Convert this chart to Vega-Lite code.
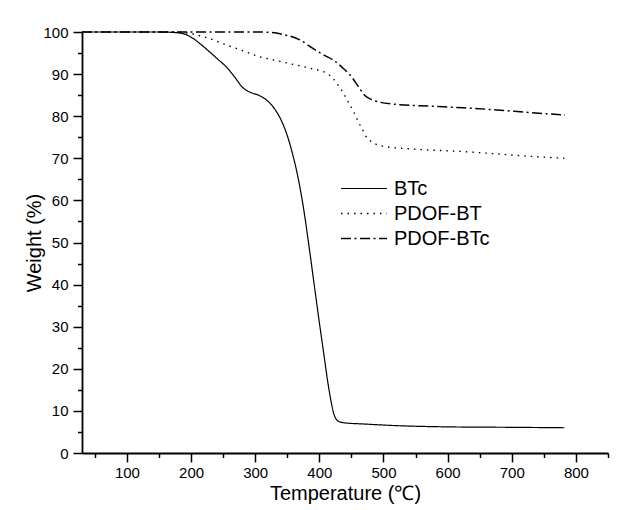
{
  "$schema": "https://vega.github.io/schema/vega-lite/v6.json",
  "autosize": "none",
  "padding": {"left": 82, "top": 32, "right": 10, "bottom": 57},
  "width": 526,
  "height": 421,
  "background": "white",
  "config": {
    "font": "Liberation Sans",
    "view": {"stroke": null}
  },
  "data": {
    "values": [
      {"series": "BTc", "t": 30, "w": 100},
      {"series": "BTc", "t": 150, "w": 100},
      {"series": "BTc", "t": 172, "w": 99.9},
      {"series": "BTc", "t": 190, "w": 99.5},
      {"series": "BTc", "t": 202, "w": 98.6},
      {"series": "BTc", "t": 215, "w": 97.1},
      {"series": "BTc", "t": 229.5, "w": 95.2},
      {"series": "BTc", "t": 242, "w": 93.5},
      {"series": "BTc", "t": 255, "w": 91.7},
      {"series": "BTc", "t": 268, "w": 89.3},
      {"series": "BTc", "t": 280, "w": 86.9},
      {"series": "BTc", "t": 292, "w": 85.7},
      {"series": "BTc", "t": 305, "w": 85.0},
      {"series": "BTc", "t": 318, "w": 83.8},
      {"series": "BTc", "t": 330, "w": 81.8},
      {"series": "BTc", "t": 341, "w": 78.9},
      {"series": "BTc", "t": 350, "w": 75.4},
      {"series": "BTc", "t": 359, "w": 70.6},
      {"series": "BTc", "t": 368, "w": 64.5},
      {"series": "BTc", "t": 376, "w": 57.5},
      {"series": "BTc", "t": 384, "w": 49},
      {"series": "BTc", "t": 392, "w": 40},
      {"series": "BTc", "t": 400, "w": 31},
      {"series": "BTc", "t": 407, "w": 23.5},
      {"series": "BTc", "t": 413, "w": 17},
      {"series": "BTc", "t": 418, "w": 12.5},
      {"series": "BTc", "t": 422, "w": 9.6},
      {"series": "BTc", "t": 426, "w": 8.1},
      {"series": "BTc", "t": 432, "w": 7.4},
      {"series": "BTc", "t": 440, "w": 7.15},
      {"series": "BTc", "t": 468, "w": 6.9},
      {"series": "BTc", "t": 520, "w": 6.5},
      {"series": "BTc", "t": 604, "w": 6.2},
      {"series": "BTc", "t": 700, "w": 6.1},
      {"series": "BTc", "t": 782, "w": 6.0},

      {"series": "PDOF-BT", "t": 30, "w": 100},
      {"series": "PDOF-BT", "t": 170, "w": 100},
      {"series": "PDOF-BT", "t": 188, "w": 99.9},
      {"series": "PDOF-BT", "t": 200, "w": 99.6},
      {"series": "PDOF-BT", "t": 219, "w": 98.9},
      {"series": "PDOF-BT", "t": 255.6, "w": 96.9},
      {"series": "PDOF-BT", "t": 281.5, "w": 95.5},
      {"series": "PDOF-BT", "t": 307.5, "w": 94.1},
      {"series": "PDOF-BT", "t": 333.5, "w": 93.2},
      {"series": "PDOF-BT", "t": 359.5, "w": 92.3},
      {"series": "PDOF-BT", "t": 385.5, "w": 91.4},
      {"series": "PDOF-BT", "t": 411.5, "w": 90.2},
      {"series": "PDOF-BT", "t": 421.8, "w": 88.9},
      {"series": "PDOF-BT", "t": 430, "w": 87.2},
      {"series": "PDOF-BT", "t": 437, "w": 85.6},
      {"series": "PDOF-BT", "t": 445, "w": 83.4},
      {"series": "PDOF-BT", "t": 453, "w": 81.2},
      {"series": "PDOF-BT", "t": 457, "w": 79.9},
      {"series": "PDOF-BT", "t": 462, "w": 78.3},
      {"series": "PDOF-BT", "t": 467, "w": 76.9},
      {"series": "PDOF-BT", "t": 471, "w": 75.6},
      {"series": "PDOF-BT", "t": 479, "w": 74.2},
      {"series": "PDOF-BT", "t": 489, "w": 73.3},
      {"series": "PDOF-BT", "t": 502, "w": 72.8},
      {"series": "PDOF-BT", "t": 546, "w": 72.2},
      {"series": "PDOF-BT", "t": 624, "w": 71.6},
      {"series": "PDOF-BT", "t": 726, "w": 70.5},
      {"series": "PDOF-BT", "t": 782, "w": 70.0},

      {"series": "PDOF-BTc", "t": 30, "w": 100},
      {"series": "PDOF-BTc", "t": 300, "w": 100},
      {"series": "PDOF-BTc", "t": 323, "w": 99.9},
      {"series": "PDOF-BTc", "t": 344, "w": 99.4},
      {"series": "PDOF-BTc", "t": 370, "w": 98.1},
      {"series": "PDOF-BTc", "t": 390, "w": 96.1},
      {"series": "PDOF-BTc", "t": 405, "w": 94.7},
      {"series": "PDOF-BTc", "t": 422, "w": 93.3},
      {"series": "PDOF-BTc", "t": 437, "w": 91.4},
      {"series": "PDOF-BTc", "t": 450, "w": 89.4},
      {"series": "PDOF-BTc", "t": 461, "w": 87},
      {"series": "PDOF-BTc", "t": 471, "w": 84.9},
      {"series": "PDOF-BTc", "t": 484, "w": 83.8},
      {"series": "PDOF-BTc", "t": 495, "w": 83.3},
      {"series": "PDOF-BTc", "t": 521, "w": 82.8},
      {"series": "PDOF-BTc", "t": 572, "w": 82.4},
      {"series": "PDOF-BTc", "t": 624, "w": 82.0},
      {"series": "PDOF-BTc", "t": 676, "w": 81.5},
      {"series": "PDOF-BTc", "t": 726, "w": 80.9},
      {"series": "PDOF-BTc", "t": 783, "w": 80.3}
    ]
  },
  "mark": {"type": "line", "interpolate": "monotone", "color": "black"},
  "encoding": {
    "x": {
      "field": "t",
      "type": "quantitative",
      "scale": {"domain": [30, 850], "nice": false, "zero": false},
      "axis": {
        "title": "Temperature (℃)",
        "titleFontSize": 20,
        "titleFontWeight": "normal",
        "titleColor": "black",
        "titlePadding": 3,
        "values": [50, 100, 150, 200, 250, 300, 350, 400, 450, 500, 550, 600, 650, 700, 750, 800, 850],
        "labelExpr": "datum.value % 100 === 0 ? datum.label : ''",
        "labelOverlap": false,
        "labelFontSize": 15,
        "labelColor": "black",
        "labelPadding": 3,
        "tickSize": {"condition": {"test": "datum.value % 100 === 0", "value": 9}, "value": 4.5},
        "tickColor": "black",
        "tickWidth": 1.5,
        "domainColor": "black",
        "domainWidth": 1.8,
        "grid": false
      }
    },
    "y": {
      "field": "w",
      "type": "quantitative",
      "scale": {"domain": [0, 100], "nice": false},
      "axis": {
        "title": "Weight (%)",
        "titleFontSize": 20,
        "titleFontWeight": "normal",
        "titleColor": "black",
        "titleX": -48,
        "titleBaseline": "middle",
        "values": [0, 5, 10, 15, 20, 25, 30, 35, 40, 45, 50, 55, 60, 65, 70, 75, 80, 85, 90, 95, 100],
        "labelExpr": "datum.value % 10 === 0 ? datum.label : ''",
        "labelOverlap": false,
        "labelFontSize": 15,
        "labelColor": "black",
        "labelPadding": 5,
        "tickSize": {"condition": {"test": "datum.value % 10 === 0", "value": 9}, "value": 4.5},
        "tickColor": "black",
        "tickWidth": 1.5,
        "domainColor": "black",
        "domainWidth": 1.8,
        "grid": false
      }
    },
    "strokeDash": {
      "field": "series",
      "type": "nominal",
      "scale": {
        "domain": ["BTc", "PDOF-BT", "PDOF-BTc"],
        "range": [[1, 0], [1.5, 5], [10, 3.5, 2, 3.5]]
      },
      "legend": {
        "title": null,
        "orient": "none",
        "legendX": 258,
        "legendY": 144,
        "symbolType": "stroke",
        "symbolSize": 2116,
        "symbolStrokeColor": "black",
        "symbolStrokeWidth": 1.5,
        "labelFontSize": 20,
        "labelColor": "black",
        "labelOffset": 6,
        "clipHeight": 25,
        "rowPadding": 0,
        "padding": 0
      }
    },
    "strokeWidth": {
      "field": "series",
      "type": "nominal",
      "scale": {"domain": ["BTc", "PDOF-BT", "PDOF-BTc"], "range": [1.2, 1.5, 2]},
      "legend": null
    }
  }
}
